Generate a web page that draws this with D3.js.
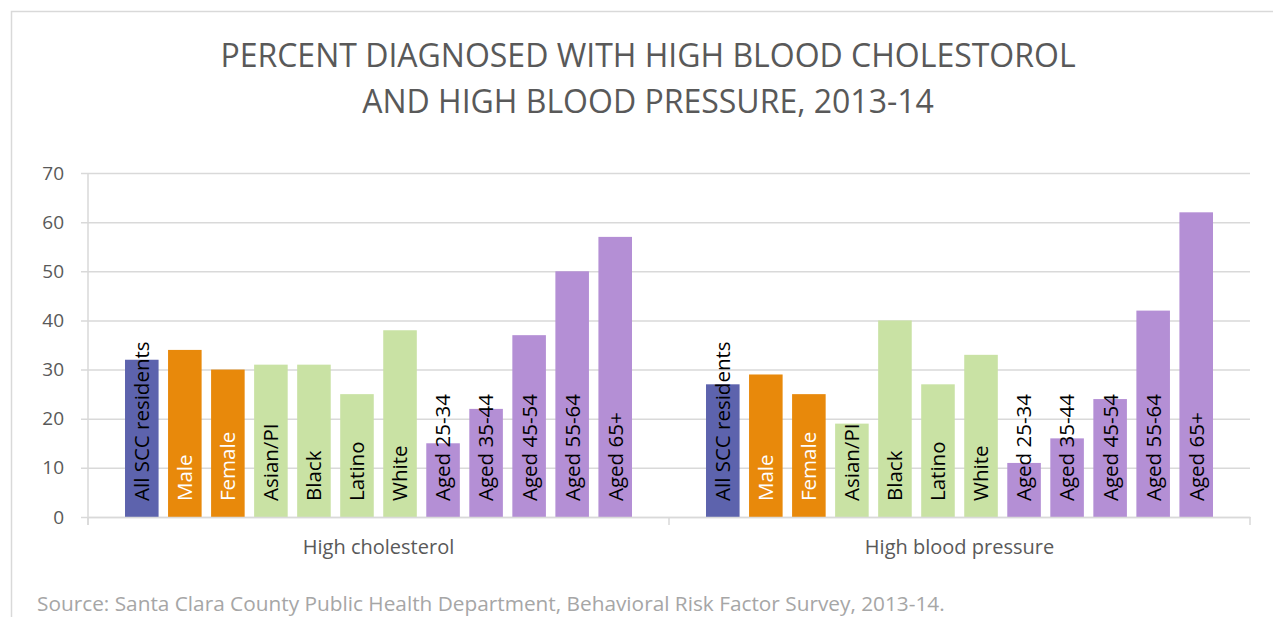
<!DOCTYPE html>
<html lang="en">
	<head>
		<meta charset="utf-8">
		<title>Percent diagnosed with high blood cholesterol and high blood pressure</title>
		<script src="https://cdn.jsdelivr.net/npm/d3@7"></script>
		<style>
			body { margin: 0; background: #fff; }
			svg text { font-family: "Open Sans", sans-serif; }
		</style>
	</head>
	<body>
		<script>

			//Data
			var groups = ["High cholesterol", "High blood pressure"];
			var categories = ["All SCC residents", "Male", "Female", "Asian/PI", "Black", "Latino", "White",
				"Aged 25-34", "Aged 35-44", "Aged 45-54", "Aged 55-64", "Aged 65+"];
			var cholesterol = [32, 34, 30, 31, 31, 25, 38, 15, 22, 37, 50, 57];
			var bloodPressure = [27, 29, 25, 19, 40, 27, 33, 11, 16, 24, 42, 62];
			var yTicks = [0, 10, 20, 30, 40, 50, 60, 70];

			//Colour by type of category
			var barColor = function(i) {
				if (i == 0) return "#5D63AD";
				if (i < 3) return "#E8890B";
				if (i < 7) return "#C9E2A4";
				return "#B48FD5";
			};

			var w = 1273;
			var h = 617;
			var plotLeft = 88, plotRight = 1250, plotTop = 173, plotBottom = 517;

			var svg = d3.select("body")
						.append("svg")
						.attr("width", w)
						.attr("height", h);

			//Chart frame
			svg.append("path")
				.attr("d", "M11.5," + h + "V11.5H" + w)
				.attr("fill", "none")
				.attr("stroke", "#D9D9D9")
				.attr("stroke-width", 1.5);

			//Title
			svg.append("text")
				.attr("x", 648)
				.attr("y", 67)
				.attr("text-anchor", "middle")
				.attr("font-size", "32px")
				.attr("fill", "#595959")
				.selectAll("tspan")
				.data(["PERCENT DIAGNOSED WITH HIGH BLOOD CHOLESTOROL", "AND HIGH BLOOD PRESSURE, 2013-14"])
				.enter()
				.append("tspan")
				.attr("x", 648)
				.attr("dy", function(d, i) { return i == 0 ? 0 : 46; })
				.text(function(d) { return d; });

			//Scales
			var x0 = d3.scaleBand()
						.domain(groups)
						.range([plotLeft, plotRight]);

			var x1 = d3.scaleBand()
						.domain(categories)
						.range([0, x0.bandwidth()])
						.paddingInner(0.22)
						.paddingOuter(0.86);

			var yScale = d3.scaleLinear()
						.domain([0, 70])
						.range([plotBottom, plotTop]);

			//Y axis with gridlines
			var yAxis = d3.axisLeft(yScale)
						.tickValues(yTicks)
						.tickSize(-(plotRight - plotLeft + 7))
						.tickPadding(17);

			var gy = svg.append("g")
				.attr("transform", "translate(" + (plotLeft - 7) + ",0)")
				.call(yAxis);
			gy.select(".domain").remove();
			gy.selectAll(".tick line")
				.attr("stroke", "#D9D9D9")
				.attr("stroke-width", 1.5);
			gy.selectAll(".tick text")
				.attr("font-family", "Open Sans, sans-serif")
				.attr("font-size", "19px")
				.attr("fill", "#595959");

			//Vertical axis line
			svg.append("line")
				.attr("x1", plotLeft).attr("x2", plotLeft)
				.attr("y1", plotTop).attr("y2", plotBottom + 8)
				.attr("stroke", "#D9D9D9")
				.attr("stroke-width", 1.5);

			//Bars
			var seriesByGroup = [cholesterol, bloodPressure];

			var gGroups = svg.selectAll("g.group")
				.data(groups)
				.enter()
				.append("g")
				.attr("class", "group")
				.attr("transform", function(d) { return "translate(" + x0(d) + ",0)"; });

			gGroups.selectAll("rect")
				.data(function(d, gi) {
					return categories.map(function(c, i) { return { cat: c, i: i, value: seriesByGroup[gi][i] }; });
				})
				.enter()
				.append("rect")
				.attr("x", function(d) { return x1(d.cat); })
				.attr("y", function(d) { return yScale(d.value); })
				.attr("width", x1.bandwidth())
				.attr("height", function(d) { return plotBottom - yScale(d.value); })
				.attr("fill", function(d) { return barColor(d.i); });

			//Bar labels, rotated inside the bars
			gGroups.selectAll("text.bar-label")
				.data(function(d, gi) {
					return categories.map(function(c, i) { return { cat: c, i: i }; });
				})
				.enter()
				.append("text")
				.attr("class", "bar-label")
				.attr("transform", function(d) {
					return "translate(" + (x1(d.cat) + x1.bandwidth() / 2) + "," + (plotBottom - 16) + ") rotate(-90)";
				})
				.attr("dy", "0.36em")
				.attr("font-size", "20.5px")
				.attr("fill", function(d) { return (d.i == 1 || d.i == 2) ? "#fff" : "#000"; })
				.text(function(d) { return d.cat; });

			//X axis
			var xAxis = d3.axisBottom(x0)
						.tickSize(0)
						.tickPadding(23);

			var gx = svg.append("g")
				.attr("transform", "translate(0," + plotBottom + ")")
				.call(xAxis);
			gx.select(".domain")
				.attr("stroke", "#D9D9D9")
				.attr("stroke-width", 1.5);
			gx.selectAll(".tick text")
				.attr("font-family", "Open Sans, sans-serif")
				.attr("font-size", "20px")
				.attr("fill", "#595959");

			//Separator ticks between groups
			svg.selectAll("line.sep")
				.data([plotLeft, x0("High blood pressure"), plotRight])
				.enter()
				.append("line")
				.attr("class", "sep")
				.attr("x1", function(d) { return d; })
				.attr("x2", function(d) { return d; })
				.attr("y1", plotBottom)
				.attr("y2", plotBottom + 8)
				.attr("stroke", "#D9D9D9")
				.attr("stroke-width", 1.5);

			//Source note
			svg.append("text")
				.attr("x", 37)
				.attr("y", 611)
				.attr("font-size", "20.8px")
				.attr("fill", "#A6A6A6")
				.text("Source: Santa Clara County Public Health Department, Behavioral Risk Factor Survey, 2013-14.");

		</script>
	</body>
</html>
